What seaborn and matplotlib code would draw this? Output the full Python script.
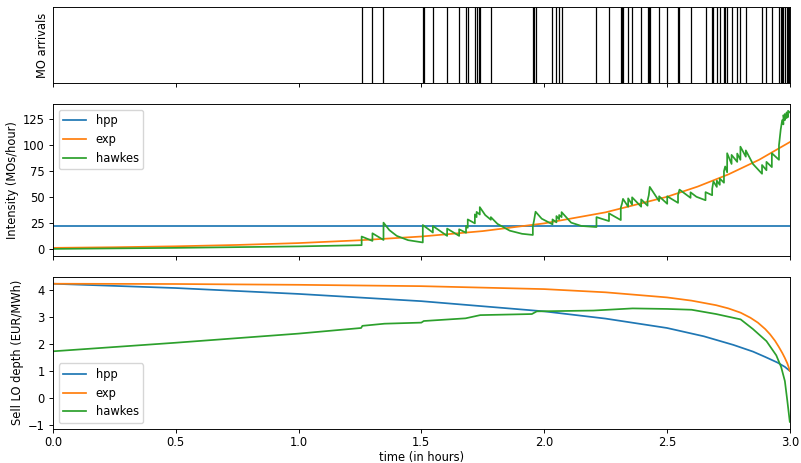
import matplotlib
matplotlib.use("Agg")
import matplotlib.pyplot as plt
from matplotlib.ticker import MultipleLocator
import seaborn as sns

# market order arrival times (hours)
arrivals = [1.257, 1.301, 1.346, 1.506, 1.510, 1.547, 1.605, 1.654, 1.682, 1.689,
            1.718, 1.725, 1.734, 1.738, 1.783, 1.954, 1.959, 1.965, 2.034, 2.050,
            2.061, 2.071, 2.213, 2.264, 2.312, 2.317, 2.321, 2.342, 2.358, 2.395,
            2.421, 2.426, 2.430, 2.468, 2.501, 2.545, 2.551, 2.596, 2.657, 2.684,
            2.689, 2.703, 2.715, 2.732, 2.737, 2.745, 2.763, 2.786, 2.799, 2.821,
            2.887, 2.905, 2.927, 2.956, 2.963, 2.969, 2.974, 2.980, 2.987, 2.993,
            2.997]

# intensities
hpp_int_t = [0.0, 3.0]
hpp_int_v = [22.8, 22.8]

exp_int_t = [0.0, 0.25, 0.5, 0.75, 1.0, 1.25, 1.5, 1.75, 2.0, 2.25, 2.5, 2.625,
             2.75, 2.875, 3.0]
exp_int_v = [1.5, 2.1, 3.0, 4.3, 6.1, 8.8, 12.4, 17.6, 25.0, 35.6, 50.5, 60.3,
             72.0, 86.0, 103.0]

hawkes_int_t = [0.0, 0.5, 1.0, 1.257, 1.257, 1.301, 1.301, 1.346, 1.346, 1.37,
                1.40, 1.446, 1.506, 1.506, 1.547, 1.547, 1.605, 1.605, 1.654, 1.654,
                1.682, 1.682, 1.689, 1.689, 1.718, 1.718, 1.725, 1.725, 1.738, 1.738,
                1.76, 1.783, 1.783, 1.81, 1.86, 1.91, 1.954, 1.954, 1.959, 1.965,
                1.99, 2.034, 2.034, 2.050, 2.050, 2.061, 2.061, 2.071, 2.071, 2.11,
                2.152, 2.213, 2.213, 2.264, 2.264, 2.312, 2.312, 2.317, 2.321, 2.342,
                2.342, 2.358, 2.358, 2.395, 2.395, 2.421, 2.421, 2.426, 2.430, 2.468,
                2.468, 2.501, 2.501, 2.545, 2.545, 2.551, 2.596, 2.596, 2.62, 2.657,
                2.657, 2.684, 2.684, 2.689, 2.703, 2.703, 2.715, 2.715, 2.732, 2.732,
                2.737, 2.745, 2.745, 2.763, 2.763, 2.786, 2.786, 2.799, 2.799, 2.821,
                2.821, 2.85, 2.887, 2.887, 2.905, 2.905, 2.927, 2.927, 2.956, 2.956,
                2.963, 2.969, 2.974, 2.974, 2.980, 2.980, 2.987, 2.987, 2.993, 2.993,
                3.0]
hawkes_int_v = [0.5, 1.5, 2.9, 4.1, 12.4, 8.2, 15.5, 9.1, 25.7, 18.5,
                13.0, 8.9, 6.7, 23.4, 16.2, 22.5, 13.0, 20.0, 13.0, 19.3,
                16.0, 22.5, 20.8, 28.8, 25.0, 33.6, 31.0, 36.0, 33.5, 40.6,
                33.0, 28.5, 31.0, 24.5, 18.0, 15.0, 13.9, 22.0, 28.0, 36.2,
                29.5, 24.1, 28.8, 26.0, 32.0, 29.0, 33.0, 31.0, 35.8, 25.7,
                22.5, 21.5, 31.0, 27.2, 34.6, 28.2, 40.0, 44.0, 48.5, 41.0,
                49.0, 43.0, 50.0, 41.0, 48.0, 42.0, 47.0, 52.0, 60.0, 46.3,
                51.0, 43.8, 51.0, 44.7, 52.0, 57.4, 49.5, 54.8, 50.5, 47.2,
                55.0, 52.0, 58.0, 65.3, 60.0, 66.0, 62.0, 68.0, 64.0, 75.0,
                79.6, 74.0, 92.3, 82.0, 90.7, 84.0, 92.0, 86.0, 98.6, 89.0,
                95.0, 82.0, 72.6, 81.0, 76.0, 84.0, 79.0, 92.3, 86.0, 100.0,
                115.0, 124.0, 120.0, 128.8, 124.0, 130.0, 126.0, 131.5, 127.0, 133.0,
                131.5]

# sell limit order depths
hpp_depth_t = [0.0, 0.5, 1.0, 1.5, 2.0, 2.25, 2.5, 2.65, 2.77, 2.85, 2.9, 2.95,
               2.98, 3.0]
hpp_depth_v = [4.25, 4.09, 3.87, 3.60, 3.22, 2.95, 2.60, 2.29, 1.97, 1.72, 1.52,
               1.31, 1.15, 1.0]

exp_depth_t = [0.0, 0.5, 1.0, 1.5, 2.0, 2.25, 2.5, 2.6, 2.7, 2.75, 2.8, 2.84,
               2.87, 2.9, 2.92, 2.94, 2.955, 2.97, 2.98, 2.99, 2.995, 3.0]
exp_depth_v = [4.25, 4.24, 4.21, 4.16, 4.05, 3.93, 3.74, 3.62, 3.45, 3.33, 3.17,
               2.98, 2.80, 2.56, 2.36, 2.12, 1.90, 1.66, 1.48, 1.28, 1.15, 1.0]

hawkes_depth_t = [0.0, 0.5, 1.0, 1.255, 1.26, 1.35, 1.50, 1.51, 1.68, 1.74, 1.95,
                  1.97, 2.2, 2.36, 2.5, 2.6, 2.7, 2.77, 2.80, 2.85, 2.905, 2.945,
                  2.965, 2.98, 2.99, 3.0]
hawkes_depth_v = [1.73, 2.05, 2.39, 2.60, 2.68, 2.76, 2.80, 2.86, 2.96, 3.08, 3.12,
                  3.22, 3.25, 3.33, 3.31, 3.28, 3.12, 2.98, 2.92, 2.56, 2.11, 1.58,
                  1.14, 0.62, -0.12, -0.90]

plt.rcParams.update({
    'font.size': 8.3,
    'lines.linewidth': 1.25,
    'axes.linewidth': 0.67,
    'xtick.major.size': 2.9,
    'ytick.major.size': 2.9,
    'xtick.major.width': 0.67,
    'ytick.major.width': 0.67,
    'xtick.major.pad': 2.5,
    'ytick.major.pad': 2.9,
    'axes.labelpad': 3.0,
})

fig, axes = plt.subplots(3, 1, figsize=(8.01, 4.63), dpi=100, sharex=True,
                         gridspec_kw={'height_ratios': [1, 2, 2]})
fig.subplots_adjust(left=0.066, right=0.986, bottom=0.074, top=0.985, hspace=0.166)

# arrivals
ax = axes[0]
sns.rugplot(x=arrivals, height=1, color='black', linewidth=0.9, ax=ax,
            expand_margins=False)
ax.set_yticks([])
ax.set_ylabel('MO arrivals')

# intensity
ax = axes[1]
sns.lineplot(x=hpp_int_t, y=hpp_int_v, color='tab:blue', label='hpp', ax=ax)
sns.lineplot(x=exp_int_t, y=exp_int_v, color='tab:orange', label='exp', ax=ax)
sns.lineplot(x=hawkes_int_t, y=hawkes_int_v, color='tab:green', label='hawkes',
             estimator=None, sort=False, ax=ax)
ax.set_ylabel('Intensity (MOs/hour)')
ax.yaxis.set_major_locator(MultipleLocator(25))
ax.legend(loc='upper left')

# depth
ax = axes[2]
sns.lineplot(x=hpp_depth_t, y=hpp_depth_v, color='tab:blue', label='hpp', ax=ax)
sns.lineplot(x=exp_depth_t, y=exp_depth_v, color='tab:orange', label='exp', ax=ax)
sns.lineplot(x=hawkes_depth_t, y=hawkes_depth_v, color='tab:green', label='hawkes',
             estimator=None, sort=False, ax=ax)
ax.set_ylabel('Sell LO depth (EUR/MWh)')
ax.set_xlabel('time (in hours)', labelpad=1.5)
ax.yaxis.set_major_locator(MultipleLocator(1))
ax.legend(loc='lower left')

ax.set_xlim(0, 3)

plt.savefig('out.png', dpi=100)
